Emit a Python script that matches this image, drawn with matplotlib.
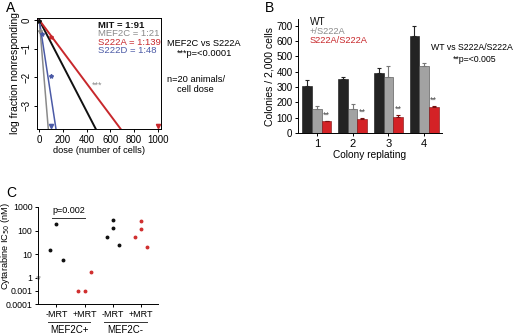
#!/usr/bin/env python
""" plot.py: three panel figure (limiting dilution, replating, IC50) """

import numpy as np
import matplotlib
matplotlib.use("Agg")
import matplotlib.pyplot as plt

plt.rcParams['font.family'] = ['Liberation Sans', 'DejaVu Sans']
plt.rcParams['font.size'] = 7
plt.rcParams['axes.linewidth'] = 0.7

BLACK = '#111111'
GRAY = '#8a8a8a'
RED = '#c8282c'
BLUE = '#4b5aa6'

# --- panel A: limiting dilution fits ---
fit_labels = ["MIT = 1:91", "MEF2C = 1:21", "S222A = 1:139", "S222D = 1:48"]
fit_cells = [125, 20, 180, 37]      # cells per log unit
fit_colors = [BLACK, GRAY, RED, BLUE]

obs_dose = [0, 5, 20, 100, 100]
obs_logf = [-0.05, -0.4, -0.5, -0.6, -1.95]
obs_colors = [BLACK, GRAY, BLUE, RED, BLUE]

cens_dose = [100, 1000]
cens_logf = [-3.72, -3.72]
cens_colors = [BLUE, RED]

# --- panel B: colony replating ---
rounds = ["1", "2", "3", "4"]
wt = [304, 350, 391, 637]
wt_err = [42, 17, 33, 63]
het = [157, 154, 365, 437]
het_err = [17, 35, 70, 20]
hom = [76, 93, 106, 170]
hom_err = [5, 5, 9, 4]

# --- panel C: cytarabine IC50 ---
c_ticks = ["-MRT", "+MRT", "-MRT", "+MRT"]
c_groups = ["MEF2C+", "MEF2C-"]
ic50_plus_ctrl = [15, 195, 5.6]
ic50_plus_mrt = [0.001, 0.001, 1.8]
ic50_minus_ctrl = [52, 270, 125, 25]
ic50_minus_mrt = [52, 245, 113, 19]


def broken_fwd(v):
    l = np.log10(np.clip(v, 1e-12, None))
    return np.where(l >= 0, l, np.where(l >= -3, 0.19 * l, -0.57 + 0.555 * (l + 3)))


def broken_inv(y):
    y = np.asarray(y, dtype=float)
    with np.errstate(over='ignore', divide='ignore', invalid='ignore'):
        return np.where(y >= 0, 10.0 ** y,
                        np.where(y >= -0.57, 10.0 ** (y / 0.19),
                                 10.0 ** ((y + 0.57) / 0.555 - 3)))


fig = plt.figure(figsize=(5.2, 3.35), dpi=100)

# ---------------- A ----------------
ax = fig.add_axes([37 / 520, 1 - 129 / 335, 124 / 520, 111 / 335])
d = np.linspace(0, 1100, 200)
for f, c in zip(fit_cells, fit_colors):
    lw = 1.4 if c in (BLACK, RED) else 1.1
    ax.plot(d, -d / f, color=c, lw=lw)
for x, y, c in zip(obs_dose, obs_logf, obs_colors):
    ax.plot(x, y, marker='*', ms=3, color=c, ls='none')
for x, y, c in zip(cens_dose, cens_logf, cens_colors):
    ax.plot(x, y, marker='v', ms=3, color=c, ls='none', clip_on=False)
ax.text(490, -2.3, "***", color=GRAY, ha='center', va='center', fontsize=6.5)
ax.set_xlim(-19, 1028)
ax.set_ylim(-3.82, 0.07)
ax.set_xticks([0, 200, 400, 600, 800, 1000])
ax.set_yticks([0, -1, -2, -3])
ax.set_yticklabels(["0", "\u22121", "\u22122", "\u22123"], rotation=90, va='center')
ax.tick_params(length=2.5, width=0.7, pad=1.5, labelsize=7)
ax.set_xlabel("dose (number of cells)", fontsize=6.7, labelpad=1)
ax.set_ylabel("log fraction nonresponding", fontsize=7.5, labelpad=1)
for i, (lab, c) in enumerate(zip(fit_labels, fit_colors)):
    ax.text(0.49, 0.935 - i * 0.077, lab, color=c, transform=ax.transAxes,
            fontsize=6.8, va='center', fontweight='bold' if i == 0 else 'normal')
fig.text(204 / 520, 1 - 43 / 335, "MEF2C vs S222A", ha='center', va='center', fontsize=6.7)
fig.text(205 / 520, 1 - 53 / 335, "***p=<0.0001", ha='center', va='center', fontsize=6.7)
fig.text(167 / 520, 1 - 80 / 335, "n=20 animals/", ha='left', va='center', fontsize=6.7)
fig.text(177 / 520, 1 - 90 / 335, "cell dose", ha='left', va='center', fontsize=6.7)
fig.text(6 / 520, 1 - 8 / 335, "A", fontsize=10, va='center')

# ---------------- B ----------------
ax = fig.add_axes([298 / 520, 1 - 133 / 335, 144 / 520, 114 / 335])
pos = np.arange(1, len(rounds) + 1)
w = 0.27
ekw = dict(lw=0.8, capsize=1.5, capthick=0.8)
ax.bar(pos - w, wt, w, color='#232323', edgecolor='#111111', lw=0.4)
ax.errorbar(pos - w, wt, yerr=[np.zeros(4), wt_err], fmt='none', ecolor='#232323', **ekw)
ax.bar(pos, het, w, color='#a2a2a2', edgecolor='#444444', lw=0.4)
ax.errorbar(pos, het, yerr=[np.zeros(4), het_err], fmt='none', ecolor='#777777', **ekw)
ax.bar(pos + w, hom, w, color='#d42226', edgecolor='#7a1010', lw=0.4)
ax.errorbar(pos + w, hom, yerr=[np.zeros(4), hom_err], fmt='none', ecolor='#7a1010', **ekw)
for x, v, e in zip(pos + w, hom, hom_err):
    ax.text(x, v + e + 8, "**", ha='center', va='bottom', color='#444444', fontsize=6.5)
ax.set_xlim(0.47, 4.5)
ax.set_ylim(0, 745)
ax.set_xticks(pos)
ax.set_xticklabels(rounds, fontsize=8)
ax.set_yticks(range(0, 701, 100))
ax.tick_params(length=2.5, width=0.7, pad=1.5, labelsize=7)
ax.tick_params(axis='x', labelsize=8)
ax.spines['top'].set_visible(False)
ax.spines['right'].set_visible(False)
ax.set_xlabel("Colony replating", fontsize=7.3, labelpad=1)
ax.set_ylabel("Colonies / 2,000 cells", fontsize=7.5, labelpad=1)
for i, (lab, c) in enumerate(zip(["WT", "+/S222A", "S222A/S222A"], [BLACK, GRAY, RED])):
    ax.text(0.08, 0.97 - i * 0.08, lab, color=c, transform=ax.transAxes,
            fontsize=7.3 if i == 0 else 6.7, va='center')
fig.text(472 / 520, 1 - 48 / 335, "WT vs S222A/S222A", ha='center', va='center', fontsize=6.3)
fig.text(475 / 520, 1 - 59 / 335, "**p=<0.005", ha='center', va='center', fontsize=6.3)
fig.text(265 / 520, 1 - 8 / 335, "B", fontsize=10, va='center')

# ---------------- C ----------------
ax = fig.add_axes([38 / 520, 1 - 304 / 335, 120 / 520, 97 / 335])
ax.set_yscale('function', functions=(broken_fwd, broken_inv))
groups = [ic50_plus_ctrl, ic50_plus_mrt, ic50_minus_ctrl, ic50_minus_mrt]
gcols = [BLACK, '#d03030', BLACK, '#d03030']
for i, (vals, c) in enumerate(zip(groups, gcols)):
    if len(vals) == 3:
        offs = np.array([-0.22, 0.0, 0.22])
    else:
        offs = np.array([-0.22, 0.0, 0.0, 0.22])
    ax.plot(i + 1 + offs, vals, 'o', ms=1.8, color=c, ls='none')
ax.set_xlim(0.35, 4.6)
ax.set_ylim(1e-4, 1000)
ax.set_yticks([1e-4, 1e-3, 1, 10, 100, 1000])
ax.set_yticklabels(["0.0001", "0.001", "1", "10", "100", "1000"])
ax.yaxis.set_minor_locator(matplotlib.ticker.NullLocator())
ax.set_xticks([1, 2, 3, 4])
ax.set_xticklabels(c_ticks)
ax.tick_params(length=2.5, width=0.7, pad=1.5, labelsize=6.3)
ax.tick_params(axis='x', labelsize=6.5)
ax.spines['top'].set_visible(False)
ax.spines['right'].set_visible(False)
ax.set_ylabel("Cytarabine IC$_{50}$ (nM)", fontsize=6.7)
ax.yaxis.set_label_coords(-0.215, 0.6)
ax.plot(0, 1, marker='v', ms=2.5, mfc='none', mec=GRAY, mew=0.6,
        transform=ax.get_yaxis_transform(), clip_on=False)
# significance bracket
ax.plot([0.85, 2.0], [350, 350], color='#333333', lw=0.7)
ax.text(1.43, 450, "p=0.002", ha='center', va='bottom', fontsize=6.5)
# group labels under the ticks
xt = ax.get_xaxis_transform()
for j, g in enumerate(c_groups):
    x0 = 1 + 2 * j
    ax.plot([x0 - 0.3, x0 + 1.2], [-0.19, -0.19], color='#333333', lw=0.7,
            transform=xt, clip_on=False)
    ax.text(x0 + 0.45, -0.22, g, ha='center', va='top', fontsize=7, transform=xt)
fig.text(6 / 520, 1 - 193 / 335, "C", fontsize=10, va='center')

fig.savefig("out.png", dpi=100)
